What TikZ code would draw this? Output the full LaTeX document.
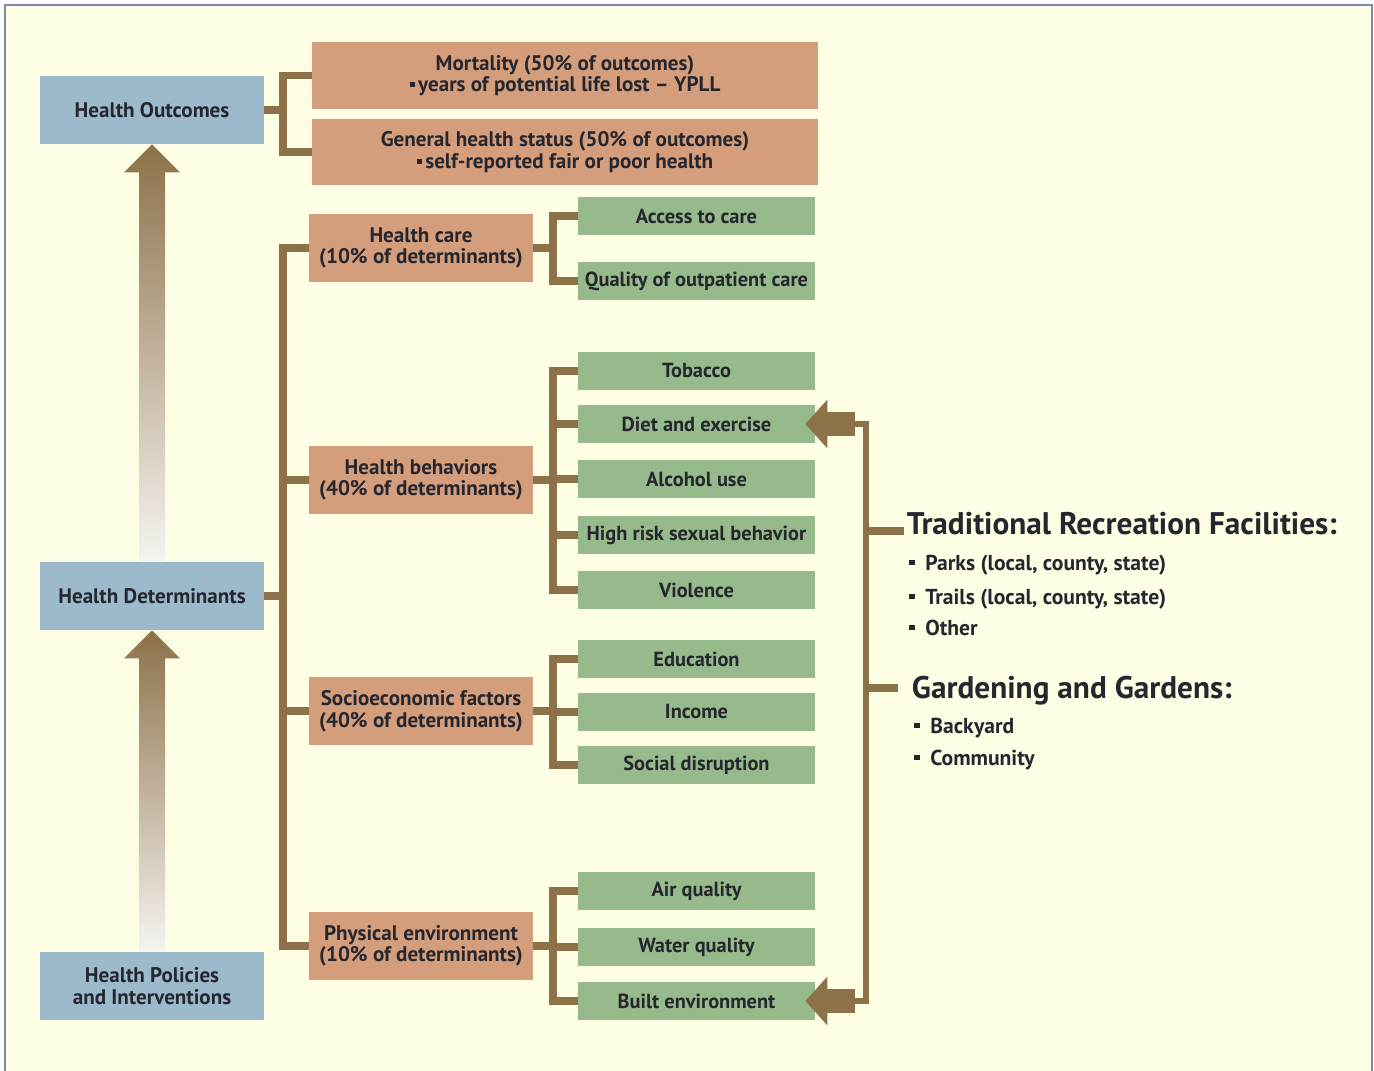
\documentclass[tikz,border=0pt]{standalone}
\usepackage{fontspec}
\setmainfont{PT Sans}
\usetikzlibrary{calc,arrows.meta}
\definecolor{bgyellow}{HTML}{FDFEE4}
\definecolor{framecol}{HTML}{7D8CA9}
\definecolor{outblue}{HTML}{9CBACB}
\definecolor{factorange}{HTML}{D49E7C}
\definecolor{itemgreen}{HTML}{96BA8B}
\definecolor{linkbrown}{HTML}{8C7149}
\definecolor{inkdark}{HTML}{26262F}
\newcommand{\sqbul}{\rule[0.22em]{0.24em}{0.24em}}
\begin{document}
\begin{tikzpicture}[x=0.02cm,y=-0.02cm,
	font=\fontsize{12}{12.3}\selectfont\bfseries, text=inkdark,
	bluebox/.style={fill=outblue,minimum width=4.48cm,minimum height=1.36cm,align=center,inner sep=1pt},
	outcomebox/.style={fill=factorange,minimum width=10.12cm,minimum height=1.34cm,align=center,inner sep=1pt},
	factorbox/.style={fill=factorange,minimum width=4.48cm,minimum height=1.36cm,align=center,inner sep=1pt},
	itembox/.style={fill=itemgreen,minimum width=4.74cm,minimum height=0.76cm,inner sep=1pt,font=\fontsize{11.6}{12}\selectfont\bfseries},
	link/.style={draw=linkbrown,line width=4.5pt},
	feedline/.style={draw=linkbrown,line width=3.4pt},
	fatarrow/.style={draw=linkbrown,line width=14pt,-{Triangle[length=12.5pt,width=27pt]}},
	upshade/.style={top color=linkbrown,middle color=linkbrown!65!bgyellow,bottom color=white!92!linkbrown},
	headline/.style={font=\fontsize{17.8}{20}\selectfont\bfseries,anchor=base west,inner sep=1.5pt},
	bullitem/.style={font=\fontsize{12.3}{14}\selectfont\bfseries,anchor=base west,inner sep=0pt}]
	\useasboundingbox (0,0) rectangle (1374,1071);
	% frame
	\fill[bgyellow] (5,5) rectangle (1372,1090);
	\draw[framecol,line width=1.6pt] (5,5) rectangle (1372,1090);

	% left column
	\node[bluebox] (HO) at (152,110) {Health Outcomes};
	\node[bluebox] (HD) at (152,596) {Health Determinants};
	\node[bluebox] (HP) at (152,986) {Health Policies\\and Interventions};

	\shade[upshade] ($(HD.north)+(-13,0)$) -- ($(HO.south)+(-13,28)$) -- ($(HO.south)+(-28,28)$) -- (HO.south)
		-- ($(HO.south)+(28,28)$) -- ($(HO.south)+(13,28)$) -- ($(HD.north)+(13,0)$) -- cycle;
	\shade[upshade] ($(HP.north)+(-13,0)$) -- ($(HD.south)+(-13,28)$) -- ($(HD.south)+(-28,28)$) -- (HD.south)
		-- ($(HD.south)+(28,28)$) -- ($(HD.south)+(13,28)$) -- ($(HP.north)+(13,0)$) -- cycle;

	% outcomes
	\node[outcomebox] (mort) at (565,75.5) {Mortality (50\% of outcomes)\\\sqbul\,years of potential life lost -- YPLL};
	\node[outcomebox] (gen) at (565,152) {General health status (50\% of outcomes)\\\sqbul\,self-reported fair or poor health};

	\draw[link] (HO.east) -- ++(19,0) |- (mort.west);
	\draw[link] (HO.east) -- ++(19,0) |- (gen.west);

	% determinants
	\node[factorbox] (hc) at (421,248) {Health care\\(10\% of determinants)};
	\node[factorbox] (hb) at (421,480) {Health behaviors\\(40\% of determinants)};
	\node[factorbox] (se) at (421,711) {Socioeconomic factors\\(40\% of determinants)};
	\node[factorbox] (pe) at (421,946) {Physical environment\\(10\% of determinants)};

	\draw[link] (HD.east) -- ++(19,0) |- (hc.west);
	\draw[link] (HD.east) -- ++(19,0) |- (hb.west);
	\draw[link] (HD.east) -- ++(19,0) |- (se.west);
	\draw[link] (HD.east) -- ++(19,0) |- (pe.west);

	% items
	\node[itembox] (access) at (696.5,216) {Access to care};
	\node[itembox] (quality) at (696.5,281) {Quality of outpatient care};
	\node[itembox] (tobacco) at (696.5,371) {Tobacco};
	\node[itembox] (diet) at (696.5,424) {Diet and exercise};
	\node[itembox] (alcohol) at (696.5,479) {Alcohol use};
	\node[itembox] (sexual) at (696.5,535) {High risk sexual behavior};
	\node[itembox] (violence) at (696.5,590) {Violence};
	\node[itembox] (edu) at (696.5,659) {Education};
	\node[itembox] (income) at (696.5,712) {Income};
	\node[itembox] (social) at (696.5,765) {Social disruption};
	\node[itembox] (air) at (696.5,891) {Air quality};
	\node[itembox] (water) at (696.5,947) {Water quality};
	\node[itembox] (built) at (696.5,1001) {Built environment};

	\draw[link] (hc.east) -- ++(20,0) |- (access.west);
	\draw[link] (hc.east) -- ++(20,0) |- (quality.west);
	\draw[link] (hb.east) -- ++(20,0) |- (tobacco.west);
	\draw[link] (hb.east) -- ++(20,0) |- (diet.west);
	\draw[link] (hb.east) -- ++(20,0) |- (alcohol.west);
	\draw[link] (hb.east) -- ++(20,0) |- (sexual.west);
	\draw[link] (hb.east) -- ++(20,0) |- (violence.west);
	\draw[link] (se.east) -- ++(20,0) |- (edu.west);
	\draw[link] (se.east) -- ++(20,0) |- (income.west);
	\draw[link] (se.east) -- ++(20,0) |- (social.west);
	\draw[link] (pe.east) -- ++(20,0) |- (air.west);
	\draw[link] (pe.east) -- ++(20,0) |- (water.west);
	\draw[link] (pe.east) -- ++(20,0) |- (built.west);

	% recreation and gardens
	\coordinate (fbtop) at (866,424);
	\coordinate (fbbot) at (866,1001);
	\coordinate (dietin) at (855,424);
	\coordinate (builtin) at (855,1001);
	\coordinate (trfjoin) at (866,531);
	\coordinate (trftip) at (904,531);
	\coordinate (gardjoin) at (866,688);
	\coordinate (gardtip) at (898,688);

	\draw[feedline] (dietin) -- (fbtop) -- (fbbot) -- (builtin);
	\draw[fatarrow] (dietin) -- ([xshift=-0.2cm]diet.east);
	\draw[fatarrow] (builtin) -- ([xshift=-0.2cm]built.east);
	\draw[link] (trfjoin) -- (trftip);
	\draw[link] (gardjoin) -- (gardtip);

	\node[headline] (trf) at (904,535) {Traditional Recreation Facilities:};
	\node[bullitem] (parks) at (909,570) {\sqbul\enspace Parks (local, county, state)};
	\node[bullitem] (trails) at (909,604) {\sqbul\enspace Trails (local, county, state)};
	\node[bullitem] (other) at (909,635) {\sqbul\enspace Other};

	\node[headline] (gard) at (909,698) {Gardening and Gardens:};
	\node[bullitem] (yard) at (914,733) {\sqbul\enspace Backyard};
	\node[bullitem] (comm) at (914,765) {\sqbul\enspace Community};
\end{tikzpicture}
\end{document}
